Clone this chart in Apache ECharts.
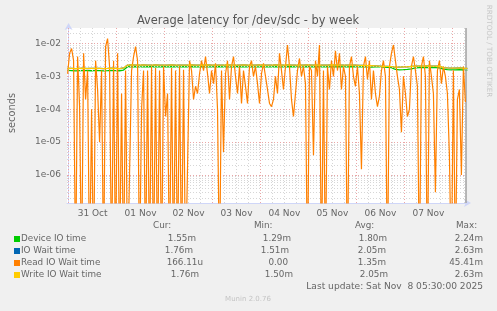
<!DOCTYPE html>
<html><head><meta charset="utf-8">
<script src="https://cdn.jsdelivr.net/npm/echarts@6/dist/echarts.min.js"></script>
<style>html,body{margin:0;padding:0;background:#f0f0f0}#c{width:497px;height:311px}</style>
</head><body><div id="c"></div>
<script>
const chartTitle = 'Average latency for /dev/sdc - by week';
const yAxisName = 'seconds';
const dayLabels = ['31 Oct','01 Nov','02 Nov','03 Nov','04 Nov','05 Nov','06 Nov','07 Nov'];
const dayLabelHours = [12,36,60,84,108,132,156,180];   // hours after 31 Oct 00:00
const yTickExponents = [-6,-5,-4,-3,-2];
const yTickLabels = ['1e-06','1e-05','1e-04','1e-03','1e-02'];

// Read IO wait time, one sample per hour starting 30 Oct 23:30
const readStartHour = -0.5, readStepHours = 1;
const readIOWait = [
1.2e-3,5e-3,7e-3,3e-3,0,4e-3,1.2e-4,0,5e-3,2e-4,
1.5e-3,0,1e-4,0,3e-3,4e-4,1e-5,1.5e-3,0,8e-3,
1.4e-2,2e-3,0,3e-3,0,5e-3,0,3e-4,0,1.5e-3,
0,0,1.5e-3,4e-3,8e-3,3e-3,0,1e-4,1.5e-3,0,
1.5e-3,0,2e-3,0,1.8e-3,0,1.5e-3,0,2e-3,6e-5,
3e-4,0,1.8e-3,0,1.5e-3,0,2e-3,0,1.6e-3,0,
0,3e-3,1.5e-3,2e-4,5e-4,3e-4,1.2e-3,3e-3,1.5e-3,4e-3,
1.2e-3,3e-4,1.5e-3,6e-4,2.5e-3,1e-4,0,1.5e-3,5e-6,1.2e-3,
3e-3,2e-4,2e-3,4e-3,1e-3,3e-4,2e-3,1.5e-4,1.5e-3,5e-4,
1.5e-4,2e-3,3e-3,1e-3,2e-3,6e-4,1.5e-4,1.2e-3,2.5e-3,1e-3,
4e-4,1.5e-4,1.2e-4,2e-4,1e-3,3e-4,5e-3,1.5e-3,4e-4,2e-3,
9e-3,2e-3,2e-4,6e-5,3e-4,1.5e-3,3.5e-3,1e-3,2e-3,6e-4,
0,2e-3,1.5e-3,4e-6,3e-3,1e-3,9e-3,0,1.5e-3,0,
2e-3,4e-4,3e-3,1e-3,6e-3,1.5e-3,5e-3,4e-4,2e-3,1e-3,
0,2e-3,4e-3,1e-3,5e-4,2e-3,3e-4,1.5e-6,2e-3,4e-3,
8e-4,3e-3,2e-4,1.5e-3,3e-4,1.2e-4,2.5e-4,1.5e-3,3e-3,1e-3,
0,2e-3,5e-3,9e-3,3e-3,1e-3,4e-4,2e-5,1e-3,3e-4,
6e-5,1e-4,2e-3,4e-3,1.5e-3,5e-4,0,2e-3,4e-3,1e-3,
0,3e-3,1e-3,3e-4,3e-7,1.5e-3,3e-3,6e-4,2e-3,1e-3,
3e-4,4e-6,0,1.5e-3,0,2e-4,4e-4,1e-6,2e-3,1.66e-4
];

// Slower series, one sample every 2 hours starting 30 Oct 23:30 (values in ms)
const slowStartHour = -0.5, slowStepHours = 2;
const deviceIOTimeMs = [
1.52,1.50,1.47,1.50,1.53,1.49,1.48,1.51,1.50,1.47,1.49,1.52,1.50,1.48,1.55,
1.96,1.94,1.97,1.95,1.93,1.96,1.98,1.95,1.94,1.96,
1.95,1.97,1.93,1.95,1.96,1.94,1.98,1.95,1.93,1.96,
1.94,1.95,1.97,1.96,1.93,1.95,1.94,1.96,1.98,1.95,
1.93,1.96,1.95,1.94,1.97,1.95,1.93,1.96,1.95,1.94,
1.96,1.98,1.95,1.93,1.95,1.97,1.94,1.96,1.95,1.93,
1.96,1.94,1.95,1.97,1.95,1.93,1.96,1.94,1.95,1.97,
1.94,1.92,1.95,1.93,1.90,1.88,1.85,
1.62,1.58,1.60,1.63,
1.70,1.82,1.85,1.83,1.86,1.84,1.85,1.82,
1.65,1.60,1.58,1.57,1.60,1.56,1.55
];
const ioWaitTimeMs = [
1.76,1.74,1.72,1.75,1.77,1.73,1.74,1.76,1.75,1.72,1.74,1.77,1.75,1.73,1.80,
2.20,2.22,2.18,2.21,2.23,2.19,2.20,2.22,2.21,2.18,
2.20,2.23,2.19,2.21,2.20,2.18,2.22,2.21,2.19,2.20,
2.22,2.19,2.21,2.20,2.18,2.23,2.20,2.21,2.19,2.22,
2.20,2.18,2.21,2.22,2.19,2.20,2.21,2.23,2.19,2.20,
2.22,2.20,2.18,2.21,2.19,2.22,2.20,2.21,2.19,2.20,
2.21,2.22,2.19,2.20,2.21,2.18,2.20,
2.19,2.17,2.15,2.12,2.10,2.08,2.05,2.02,2.00,1.98,
1.92,1.90,1.93,1.95,
2.00,2.05,2.06,2.04,2.07,2.05,2.06,2.03,
1.85,1.80,1.78,1.79,1.81,1.77,1.76
];
const writeIOWaitMs = [
1.76,1.74,1.72,1.75,1.77,1.73,1.74,1.76,1.75,1.72,1.74,1.77,1.75,1.73,1.80,
2.20,2.22,2.18,2.21,2.23,2.19,2.20,2.22,2.21,2.18,
2.20,2.23,2.19,2.21,2.20,2.18,2.22,2.21,2.19,2.20,
2.22,2.19,2.21,2.20,2.18,2.23,2.20,2.21,2.19,2.22,
2.20,2.18,2.21,2.22,2.19,2.20,2.21,2.23,2.19,2.20,
2.22,2.20,2.18,2.21,2.19,2.22,2.20,2.21,2.19,2.20,
2.21,2.22,2.19,2.20,2.21,2.18,2.20,
2.19,2.17,2.15,2.12,2.10,2.08,2.05,2.02,2.00,1.98,
1.92,1.90,1.93,1.95,
2.00,2.05,2.06,2.04,2.07,2.05,2.06,2.03,
1.85,1.80,1.78,1.79,1.81,1.77,1.76
];

const legendNames = ['Device IO time','IO Wait time','Read IO Wait time','Write IO Wait time'];
const legendColors = ['#00cc00','#0066b3','#ff8000','#ffcc00'];
const statHeaders = ['Cur:','Min:','Avg:','Max:'];
const statValues = [
  ['1.55m','1.29m','1.80m','2.24m'],
  ['1.76m','1.51m','2.05m','2.63m'],
  ['166.11u','0.00','1.35m','45.41m'],
  ['1.76m','1.50m','2.05m','2.63m']
];
const lastUpdate = 'Last update: Sat Nov  8 05:30:00 2025';
const footer = 'Munin 2.0.76';
const watermark = 'RRDTOOL / TOBI OETIKER';

// ---- layout ----
const FONT = 'DejaVu Sans';
const TXT = '#666666';
const X_MIN = -0.8, X_MAX = 198.8;
const Y_MIN = -6.85, Y_MAX = -1.53;
const lg = v => v > 0 ? Math.log10(v) : -9;

const toPts = (arr, start, step, scale) => arr.map((v, i) => [start + i * step, lg(v * scale)]);

// grid lines
const minorH = [], majorH = [];
for (let e = -8; e <= -1; e++) {
  for (let m = 1; m <= 9; m++) {
    const y = Math.log10(m) + e;
    if (y < Y_MIN || y > Y_MAX) continue;
    (m === 1 ? majorH : minorH).push({yAxis: y});
  }
}
const minorV = [], majorV = [];
for (let h = 0; h <= X_MAX; h += 6) {
  (h % 24 === 0 ? majorV : minorV).push({xAxis: h});
}

const chart = echarts.init(document.getElementById('c'), null, {renderer: 'canvas'});
const lineSeries = (name, data, color, z, w) => ({
  name, type: 'line', data, symbol: 'none', z, clip: true,
  lineStyle: {color, width: w}, itemStyle: {color}, animation: false, silent: true
});

const graphics = [];
const rowY = [239, 251, 263, 275];
const colRight = [[196,291,387,483],[193,289,386,483],[203,288,386,483],[199,293,388,483]];
const headerLeft = [153, 254, 355, 456];
statHeaders.forEach((h, j) => graphics.push({type:'text', left: headerLeft[j], top: 221,
  style:{text:h, fill:TXT, font:`8.8px "${FONT}"`}}));
legendNames.forEach((n, r) => {
  graphics.push({type:'rect', shape:{x:14, y:rowY[r]-3, width:6, height:6}, style:{fill:legendColors[r]}});
  graphics.push({type:'text', x:21, y:rowY[r], style:{text:n, fill:TXT, font:`8.8px "${FONT}"`, textVerticalAlign:'middle'}});
  statValues[r].forEach((v, j) => graphics.push({type:'text', x: colRight[r][j], y: rowY[r],
    style:{text:v, fill:TXT, font:`8.8px "${FONT}"`, textAlign:'right', textVerticalAlign:'middle'}}));
});
graphics.push({type:'text', x:483, y:287, style:{text:lastUpdate, fill:TXT, font:`9.1px "${FONT}"`, textAlign:'right', textVerticalAlign:'middle'}});
graphics.push({type:'text', x:248, y:299, style:{text:footer, fill:'#c4c4c4', font:`7px "${FONT}"`, textAlign:'center', textVerticalAlign:'middle'}});
graphics.push({type:'text', x:489, y:51, rotation:-Math.PI/2, style:{text:watermark, fill:'#c8c8c8', font:`7.2px "${FONT}"`, textAlign:'center', textVerticalAlign:'middle'}});
graphics.push({type:'text', x:12, y:113, rotation:Math.PI/2, style:{text:yAxisName, fill:TXT, font:`9.8px "${FONT}"`, textAlign:'center', textVerticalAlign:'middle'}});
graphics.push({type:'text', x:248, y:21, style:{text:chartTitle, fill:'#555555', font:`11.4px "${FONT}"`, textAlign:'center', textVerticalAlign:'middle'}});

chart.setOption({
  backgroundColor: '#f0f0f0',
  animation: false,
  grid: {left: 67, top: 28, width: 399, height: 175, show: true, backgroundColor: '#ffffff', borderWidth: 0},
  xAxis: {
    type: 'value', min: X_MIN, max: X_MAX,
    axisLine: {show: true, lineStyle: {color: '#cfd6f8', width: 1}, symbol: ['none','arrow'], symbolSize: [6, 7], symbolOffset: [0, 5]},
    axisTick: {show: false},
    splitLine: {show: false},
    axisLabel: {customValues: dayLabelHours, color: TXT, fontFamily: FONT, fontSize: 9, margin: 6,
      formatter: v => dayLabels[dayLabelHours.indexOf(Math.round(v))] || ''}
  },
  yAxis: {
    type: 'value', min: Y_MIN, max: Y_MAX,
    axisLine: {show: true, lineStyle: {color: '#cfd6f8', width: 1}, symbol: ['none','arrow'], symbolSize: [6, 7], symbolOffset: [0, 5]},
    axisTick: {show: false},
    splitLine: {show: false},
    axisLabel: {customValues: yTickExponents, color: TXT, fontFamily: FONT, fontSize: 9, margin: 6,
      formatter: v => yTickLabels[yTickExponents.indexOf(Math.round(v))] || ''}
  },
  series: [
    {type: 'line', data: [], z: 1, silent: true, markLine: {silent: true, symbol: ['none','none'], label: {show: false}, animation: false,
      lineStyle: {color: '#d6d6d6', type: [1, 2], width: 1}, data: minorH.concat(minorV)}},
    {type: 'line', data: [], z: 1, silent: true, markLine: {silent: true, symbol: ['none','none'], label: {show: false}, animation: false,
      lineStyle: {color: '#eaa6a6', type: [1, 2], width: 1}, data: majorH.concat(majorV)}},
    {type: 'line', data: [], z: 1, silent: true, markLine: {silent: true, symbol: ['none','none'], label: {show: false}, animation: false,
      lineStyle: {color: '#a0a0a0', type: 'solid', width: 1.5}, data: [{xAxis: X_MAX}]}},
    lineSeries(legendNames[0], toPts(deviceIOTimeMs, slowStartHour, slowStepHours, 1e-3), legendColors[0], 3, 1.3),
    lineSeries(legendNames[1], toPts(ioWaitTimeMs, slowStartHour, slowStepHours, 1e-3), legendColors[1], 4, 1.3),
    lineSeries(legendNames[2], toPts(readIOWait, readStartHour, readStepHours, 1), legendColors[2], 5, 1.2),
    lineSeries(legendNames[3], toPts(writeIOWaitMs, slowStartHour, slowStepHours, 1e-3), legendColors[3], 6, 1.3)
  ],
  graphic: graphics
});
</script></body></html>
